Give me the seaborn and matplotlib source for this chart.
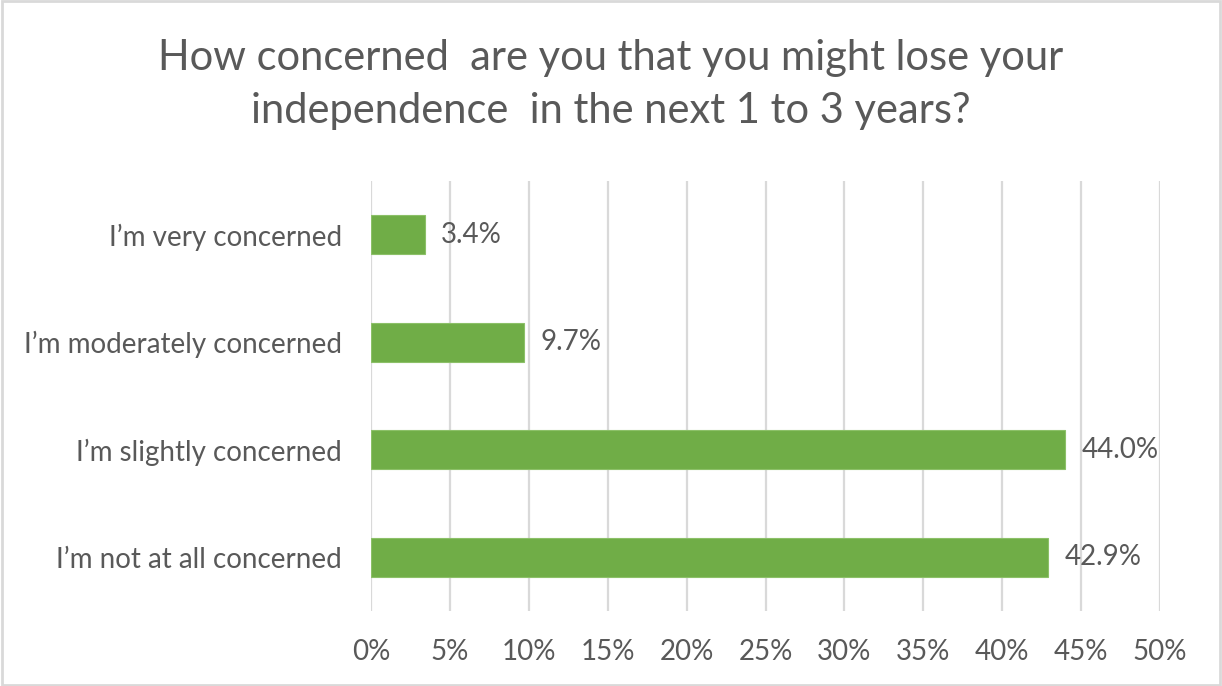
import matplotlib
matplotlib.use("Agg")
import matplotlib.pyplot as plt
import seaborn as sns
import pandas as pd
from matplotlib.patches import Rectangle
from matplotlib.ticker import MultipleLocator, FuncFormatter

# Survey responses (share of respondents, %)
categories = [
    "I\u2019m very concerned",
    "I\u2019m moderately concerned",
    "I\u2019m slightly concerned",
    "I\u2019m not at all concerned",
]
shares = [3.4, 9.7, 44.0, 42.9]
x_ticks = [0, 5, 10, 15, 20, 25, 30, 35, 40, 45, 50]

title = "How concerned  are you that you might lose your\nindependence  in the next 1 to 3 years?"

GREEN = "#70AD47"
TEXT = "#595959"
GRID = "#D9D9D9"

sns.set_theme(style="white")
plt.rcParams["font.family"] = ["Lato", "DejaVu Sans"]

df = pd.DataFrame({"category": categories, "share": shares})

fig = plt.figure(figsize=(12.22, 6.86), dpi=100)
ax = fig.add_axes([0.3036, 0.1093, 0.6457, 0.6269])

sns.barplot(data=df, x="share", y="category", orient="h", color=GREEN,
            width=0.36, saturation=1, edgecolor="#8CC068", linewidth=0.8,
            ax=ax, zorder=3)

ax.set_xlim(x_ticks[0], x_ticks[-1])
ax.set_ylim(len(categories) - 0.5, -0.5)
ax.xaxis.set_major_locator(MultipleLocator(5))
ax.xaxis.set_major_formatter(FuncFormatter(lambda v, _: f"{v:.0f}%"))
ax.grid(axis="x", color=GRID, linewidth=1.6, zorder=0)
ax.grid(axis="y", visible=False)
for s in ax.spines.values():
    s.set_visible(False)
ax.set_xlabel("")
ax.set_ylabel("")
ax.tick_params(axis="x", length=0, pad=20, labelsize=20, labelcolor=TEXT)
ax.tick_params(axis="y", length=0, pad=21, labelsize=20, labelcolor=TEXT)

for cont in ax.containers:
    ax.bar_label(cont, labels=[f"{v:.1f}%" for v in shares], padding=12,
                 fontsize=20, color=TEXT)

fig.text(0.5, 0.877, title, ha="center", va="center", fontsize=30,
         color=TEXT, linespacing=1.49)

fig.patches.append(Rectangle((0.002, 0.002), 0.996, 0.996, transform=fig.transFigure,
                             fill=False, edgecolor=GRID, linewidth=2))

fig.savefig("out.png", dpi=100, facecolor="white")
